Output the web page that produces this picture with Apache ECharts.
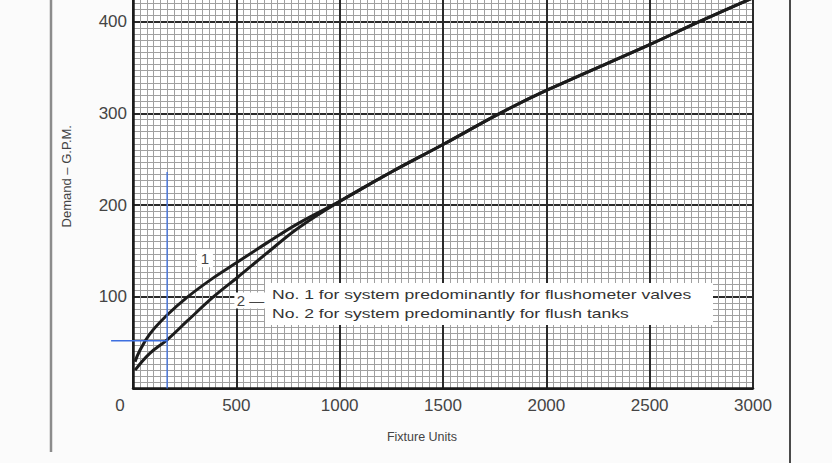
<!DOCTYPE html>
<html><head><meta charset="utf-8">
<script src="https://cdn.jsdelivr.net/npm/echarts@6/dist/echarts.min.js"></script>
<style>html,body{margin:0;padding:0;background:#fbfbfb;overflow:hidden;width:832px;height:463px;position:relative;}
#c{position:absolute;left:0;top:-70px;width:832px;height:533px;}</style>
</head><body><div id="c"></div>
<script>
// Curve No. 1 - flushometer valves
const valveFU  = [10, 30, 80, 165, 260, 385, 500, 650, 800, 1000];
const valveGPM = [29, 40, 59, 80, 99, 120, 137, 159, 180, 204];
// Curve No. 2 - flush tanks
const tankFU   = [10, 80, 165, 260, 390, 505, 650, 800, 1000];
const tankGPM  = [20, 38, 53, 73, 100, 121, 148, 175, 204];
// Common part of both curves above ~1000 fixture units
const commonFU  = [1250, 1500, 1775, 2000, 2500, 2740, 3000];
const commonGPM = [236, 266, 300, 325, 375, 400, 426];
// Blue guide lines
const guideVertFU  = [165, 165];
const guideVertGPM = [0, 236];
const guideHorFU   = [-106, 165];
const guideHorGPM  = [52, 52];
// Tick labels
const xTicks = [0, 500, 1000, 1500, 2000, 2500, 3000];
const yTicks = [100, 200, 300, 400];
const notes = ['No. 1 for system predominantly for flushometer valves',
               'No. 2 for system predominantly for flush tanks'];

const zip = (a, b) => a.map((v, i) => [v, b[i]]);
const chart = echarts.init(document.getElementById('c'), null, {renderer: 'svg'});
const txt = '#444444';
const OFF = 70; // container is shifted up by this many pixels
const baseGraphic = [
  {type: 'rect', left: 265, top: 283 + OFF, shape: {width: 448, height: 42}, style: {fill: '#ffffff'}, z: 20},
  {type: 'text', x: 272, y: 294 + OFF, scaleX: 1.35, z: 21,
    style: {text: notes[0], fontSize: 13, fill: '#333333', fontFamily: 'Liberation Sans', verticalAlign: 'middle'}},
  {type: 'text', x: 272, y: 313 + OFF, scaleX: 1.35, z: 21,
    style: {text: notes[1], fontSize: 13, fill: '#333333', fontFamily: 'Liberation Sans', verticalAlign: 'middle'}},
  {type: 'line', shape: {x1: 51, y1: OFF, x2: 51, y2: 452 + OFF}, style: {stroke: '#8c8c8c', lineWidth: 2.5}, z: 30},
  {type: 'line', shape: {x1: 790, y1: OFF, x2: 790, y2: 463 + OFF}, style: {stroke: '#4a4a4a', lineWidth: 2}, z: 30}
];
const option = {
  backgroundColor: '#fbfbfb',
  animation: false,
  grid: {left: 133, right: 79, top: 0, bottom: 74.6, show: true, backgroundColor: '#ffffff', borderWidth: 0},
  xAxis: {
    type: 'value', min: 0, max: 3000, interval: 500,
    axisLine: {show: true, lineStyle: {color: '#1a1a1a', width: 2.5}},
    axisTick: {show: false},
    axisLabel: {
      margin: 9, fontSize: 17, color: txt, fontFamily: 'Liberation Sans',
      formatter: v => xTicks.includes(v) ? (v === 0 ? '{z|0}' : String(v)) : '',
      rich: {z: {fontSize: 17, color: txt, fontFamily: 'Liberation Sans', padding: [0, 26, 0, 0]}}
    },
    splitLine: {show: true, lineStyle: {color: '#2a2a2a', width: 2}},
    minorTick: {show: false, splitNumber: 15},
    minorSplitLine: {show: true, lineStyle: {color: '#a0a0a0', width: 1}},
    name: 'Fixture Units', nameLocation: 'middle', nameGap: 42, nameMoveOverlap: false,
    nameTextStyle: {fontSize: 12.5, color: txt, fontFamily: 'Liberation Sans', padding: [0, 42, 0, 0]}
  },
  yAxis: {
    type: 'value', min: 0, max: 500, interval: 100,
    axisLine: {show: true, lineStyle: {color: '#1a1a1a', width: 2.5}},
    axisTick: {show: false},
    axisLabel: {
      margin: 6, fontSize: 17, color: txt, fontFamily: 'Liberation Sans',
      formatter: v => yTicks.includes(v) ? String(v) : ''
    },
    splitLine: {show: true, lineStyle: {color: '#2a2a2a', width: 2}},
    minorTick: {show: false, splitNumber: 15},
    minorSplitLine: {show: true, lineStyle: {color: '#a0a0a0', width: 1}},
    name: 'Demand – G.P.M.', nameLocation: 'middle', nameGap: 60, nameMoveOverlap: false,
    nameTextStyle: {fontSize: 13, color: txt, fontFamily: 'Liberation Sans', padding: [0, 34, 0, 0]}
  },
  series: [
    {
      type: 'line', name: '1', data: zip(valveFU, valveGPM).concat(zip(commonFU, commonGPM)),
      symbol: 'none', smooth: 0.4, lineStyle: {color: '#1c1c1c', width: 3}, z: 5,
      markPoint: {
        symbol: 'rect', symbolSize: [16, 18], itemStyle: {color: '#ffffff'},
        label: {show: true, formatter: '1', color: txt, fontSize: 15, fontFamily: 'Liberation Sans'},
        data: [{coord: [348, 142]}]
      }
    },
    {
      type: 'line', name: '2', data: zip(tankFU, tankGPM).concat(zip(commonFU, commonGPM)),
      symbol: 'none', smooth: 0.4, lineStyle: {color: '#1c1c1c', width: 3}, z: 5,
      markPoint: {
        symbol: 'rect', symbolSize: [32, 16], itemStyle: {color: '#ffffff'},
        label: {show: true, formatter: '2 —', color: txt, fontSize: 15, fontFamily: 'Liberation Sans'},
        data: [{coord: [568, 96]}]
      }
    },
    {
      type: 'line', data: zip(guideVertFU, guideVertGPM), symbol: 'none', clip: false,
      lineStyle: {color: '#3d6fe0', width: 1.3}, z: 6
    }
  ],
  graphic: baseGraphic
};
chart.setOption(option);
// horizontal guide extends left of the plot: place it through the chart's own scales
const p0 = chart.convertToPixel({gridIndex: 0}, [guideHorFU[0], guideHorGPM[0]]);
const p1 = chart.convertToPixel({gridIndex: 0}, [guideHorFU[1], guideHorGPM[1]]);
chart.setOption({graphic: baseGraphic.concat([
  {type: 'line', shape: {x1: p0[0], y1: p0[1], x2: p1[0], y2: p1[1]}, style: {stroke: '#3d6fe0', lineWidth: 1.3}, z: 25}
])});
</script>
</body></html>
